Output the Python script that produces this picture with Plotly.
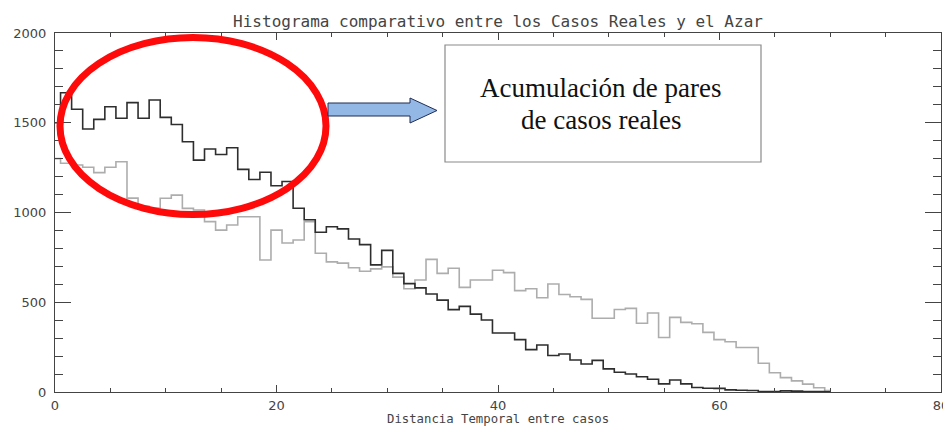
import plotly.graph_objects as go

# ---- data ----
distancia = list(range(0, 71))

casos_reales = [1500, 1667, 1575, 1465, 1519, 1589, 1525, 1612, 1525, 1627,
                1530, 1490, 1394, 1292, 1354, 1323, 1361, 1240, 1184, 1224,
                1149, 1173, 1024, 960, 890, 921, 909, 852, 821, 708,
                789, 661, 604, 580, 546, 512, 459, 477, 434, 401,
                329, 329, 292, 236, 262, 203, 212, 178, 156, 176,
                129, 110, 100, 85, 71, 45, 67, 45, 25, 21,
                20, 12, 10, 8, 3, 2, 6, 5, 3, 2, 1]

azar = [1300, 1274, 1265, 1252, 1222, 1252, 1283, 1080, 1035, 1025,
        1079, 1097, 1023, 1014, 949, 902, 930, 976, 976, 735,
        902, 830, 847, 949, 773, 725, 718, 692, 673, 686,
        697, 640, 575, 624, 739, 661, 689, 583, 624, 624,
        678, 665, 565, 575, 525, 602, 543, 531, 516, 411,
        411, 460, 466, 383, 440, 304, 416, 388, 380, 332,
        292, 280, 248, 248, 160, 107, 80, 62, 44, 24, 8]

x_ticks = [0, 20, 40, 60, 80]
y_ticks = [0, 500, 1000, 1500, 2000]

title_text = "Histograma comparativo entre los Casos Reales y el Azar"
x_title = "Distancia Temporal entre casos"
note_l1 = "Acumulación de pares"
note_l2 = "de casos reales"

# page pixel geometry (the browser puts the plot 8px in from the top-left)
OFF = 8
W, H = 951 - OFF, 426 - OFF
L, R, T, B = 55, 941, 33, 392
XMAX, YMAX = 80, 2000


def px_x(p):
    return (p - L) / (R - L) * XMAX


def px_y(p):
    return (B - p) / (B - T) * YMAX


fig = go.Figure()
fig.add_trace(go.Scatter(x=distancia, y=azar, mode="lines", line_shape="hvh",
                         line=dict(color="#adadad", width=1.6), showlegend=False))
fig.add_trace(go.Scatter(x=distancia, y=casos_reales, mode="lines", line_shape="hvh",
                         line=dict(color="#2e2e2e", width=1.6), showlegend=False))

axis_font = dict(family="DejaVu Sans", size=13, color="#444")

fig.update_xaxes(range=[0, XMAX], tickvals=x_ticks, ticktext=[str(v) for v in x_ticks],
                 ticks="inside", ticklen=7, tickwidth=1, tickcolor="#444",
                 minor=dict(ticks="inside", dtick=5, ticklen=4, tickcolor="#444"),
                 showline=True, linecolor="#444", linewidth=1, mirror="ticks",
                 showgrid=False, zeroline=False, tickfont=axis_font, ticklabelstandoff=1,
                 automargin=False)
fig.update_yaxes(range=[0, YMAX], tickvals=y_ticks, ticktext=[str(v) for v in y_ticks],
                 ticks="inside", ticklen=16, tickwidth=1, tickcolor="#444",
                 minor=dict(ticks="inside", dtick=100, ticklen=8, tickcolor="#444"),
                 showline=True, linecolor="#444", linewidth=1, mirror="ticks",
                 showgrid=False, zeroline=False, tickfont=axis_font, ticklabelstandoff=5,
                 automargin=False)

# red ellipse
fig.add_shape(type="circle", xref="x", yref="y",
              x0=px_x(60), x1=px_x(326), y0=px_y(214.5), y1=px_y(37.5),
              line=dict(color="#ff0a0a", width=7), layer="above")

# blue arrow
pts = [(328, 103), (410, 103), (410, 98), (437, 110.5), (410, 123), (410, 116), (328, 116)]
path = "M " + " L ".join(f"{px_x(a):.4f},{px_y(b):.4f}" for a, b in pts) + " Z"
fig.add_shape(type="path", xref="x", yref="y", path=path,
              fillcolor="#93b8e6", line=dict(color="#1f2d55", width=1), layer="above")

# text box
fig.add_shape(type="rect", xref="x", yref="y",
              x0=px_x(445), x1=px_x(761), y0=px_y(162), y1=px_y(45),
              fillcolor="white", line=dict(color="#8a8a8a", width=1.2), layer="above")

serif = dict(family="Liberation Serif", size=27, color="#111")
fig.add_annotation(x=px_x(600), y=px_y(88), xref="x", yref="y", text=note_l1,
                   showarrow=False, font=serif, xanchor="center", yanchor="middle")
fig.add_annotation(x=px_x(601), y=px_y(120), xref="x", yref="y", text=note_l2,
                   showarrow=False, font=serif, xanchor="center", yanchor="middle")

# x-axis title
fig.add_annotation(x=0.5, y=-(418.5 - B) / (B - T), xref="paper", yref="paper",
                   text=x_title, showarrow=False,
                   font=dict(family="DejaVu Sans Mono", size=12.3, color="#444"),
                   xanchor="center", yanchor="middle")

fig.update_layout(
    width=W, height=H,
    margin=dict(l=L - OFF, r=W - (R - OFF), t=T - OFF, b=H - (B - OFF), autoexpand=False),
    paper_bgcolor="white", plot_bgcolor="white",
    title=dict(text=title_text, x=0.5, xref="paper", xanchor="center",
               y=1 - (21 - OFF) / H, yref="container", yanchor="middle", automargin=False,
               font=dict(family="DejaVu Sans Mono", size=16, color="#444")),
)

fig.write_html("out.html")
